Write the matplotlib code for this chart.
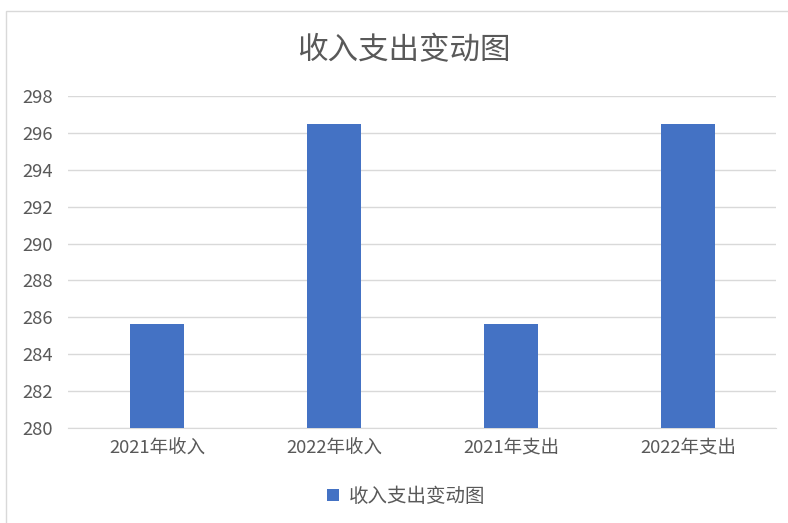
import matplotlib
matplotlib.use("Agg")
import matplotlib.pyplot as plt
from matplotlib.patches import Rectangle

plt.rcParams['font.family'] = ['Noto Sans CJK SC', 'DejaVu Sans']

categories = ["2021年收入", "2022年收入", "2021年支出", "2022年支出"]
values = [285.63, 296.47, 285.63, 296.47]
series_name = "收入支出变动图"

fig = plt.figure(figsize=(7.88, 5.23), dpi=100)
# outer chart frame
fig.patches.append(Rectangle((6 / 788, -0.01), 1.0, 1 - 11 / 523 + 0.01,
                             transform=fig.transFigure, fill=False,
                             edgecolor="#d9d9d9", linewidth=1.0))

ax = fig.add_axes([0.0869, 0.1816, 0.8985, 0.6348])
x = range(len(categories))
ax.bar(x, values, width=0.31, color="#4472c4", label=series_name, zorder=3)

ax.set_xlim(-0.5, 3.5)
ax.set_ylim(280, 298)
ax.set_yticks(range(280, 299, 2))
ax.set_xticks(list(x))
ax.set_xticklabels(categories)
ax.grid(axis="y", color="#d9d9d9", linewidth=1.0, zorder=0)
for s in ["top", "right", "left"]:
    ax.spines[s].set_visible(False)
ax.spines["bottom"].set_color("#d9d9d9")
ax.tick_params(axis="both", length=0, colors="#595959", labelsize=13.3)
ax.tick_params(axis="y", pad=11)
ax.tick_params(axis="x", pad=8)

fig.text(0.513, 0.903, "收入支出变动图", ha="center", va="center",
         fontsize=22, color="#595959", fontweight="light")

ax.legend(loc="center", bbox_to_anchor=(0.477, -0.205), frameon=False,
          fontsize=14, labelcolor="#595959", handlelength=0.6,
          handleheight=0.6, handletextpad=0.5)

fig.savefig("out.png", dpi=100, facecolor="white")
